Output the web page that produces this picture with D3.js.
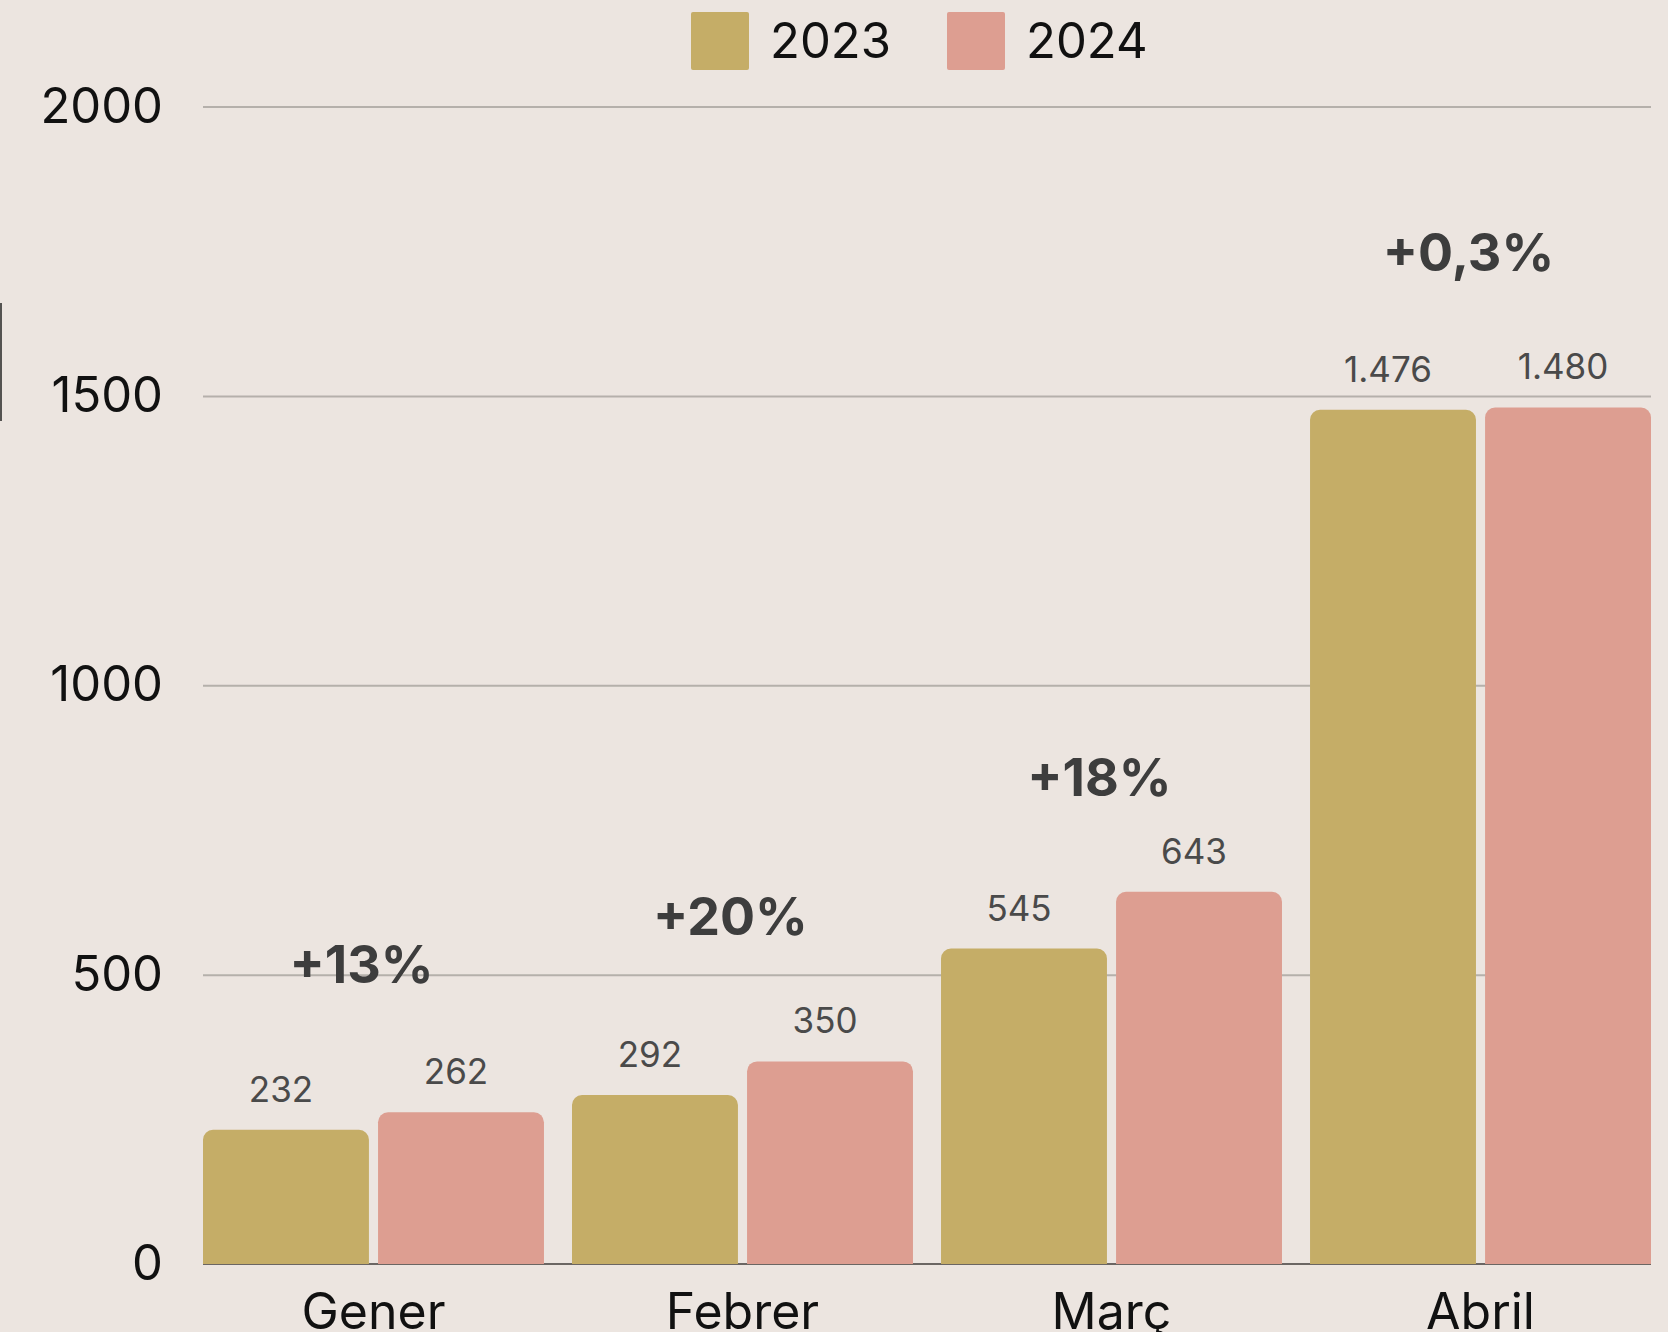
<!DOCTYPE html>
<html>
<head>
<meta charset="utf-8">
<script src="https://cdn.jsdelivr.net/npm/d3@7"></script>
<style>
  html, body { margin: 0; padding: 0; background: #ece5e0; }
  svg { display: block; font-family: Inter, "Open Sans", sans-serif; }
</style>
</head>
<body>
<div id="chart"></div>
<script>
var months = ["Gener", "Febrer", "Març", "Abril"];
var years = ["2023", "2024"];
var values2023 = [232, 292, 545, 1476];
var values2024 = [262, 350, 643, 1480];
var changeLabels = ["+13%", "+20%", "+18%", "+0,3%"];
var changeAnchor = [486, 569, 808, 1715]; // value level each change label sits at
var yTicks = [0, 500, 1000, 1500, 2000];
var yearColors = ["#c5ad67", "#dd9e91"];

var width = 1668, height = 1332;
var plot = {left: 203, right: 1651, top: 106.5, bottom: 1264};

var rows = months.map((m, i) => ({month: m, values: [values2023[i], values2024[i]]}));

// catalan style thousands: 1.476
var ca = d3.formatLocale({decimal: ",", thousands: ".", grouping: [3], currency: ["", " €"]});
var fmt = ca.format(",");

var svg = d3.select("#chart")
    .append("svg")
    .attr("width", width)
    .attr("height", height);

svg.append("rect")
    .attr("width", width)
    .attr("height", height)
    .attr("fill", "#ece5e0");

var x0 = d3.scaleBand()
    .domain(months)
    .range([plot.left, plot.right])
    .paddingInner(0.076)
    .paddingOuter(0);

var x1 = d3.scaleBand()
    .domain(years)
    .range([0, x0.bandwidth()])
    .paddingInner(0.052);

var y = d3.scaleLinear()
    .domain([0, 2000])
    .range([plot.bottom, plot.top]);

var color = d3.scaleOrdinal().domain(years).range(yearColors);

// gridlines
svg.append("g")
    .attr("transform", "translate(" + plot.left + ",0)")
    .call(d3.axisLeft(y)
        .tickValues(yTicks.filter(v => v > 0))
        .tickSize(-(plot.right - plot.left))
        .tickFormat(""))
    .call(g => g.select(".domain").remove())
    .call(g => g.selectAll("line").attr("stroke", "#b5b0ab").attr("stroke-width", 2));

// y labels
svg.append("g")
    .attr("transform", "translate(" + plot.left + ",0)")
    .call(d3.axisLeft(y)
        .tickValues(yTicks)
        .tickFormat(d3.format("d"))
        .tickSize(0)
        .tickPadding(40))
    .call(g => g.select(".domain").remove())
    .call(g => g.selectAll("text")
        .attr("fill", "#111")
        .attr("font-size", 49)
        .attr("font-family", "Inter, sans-serif"));

// baseline
svg.append("line")
    .attr("x1", plot.left)
    .attr("x2", plot.right)
    .attr("y1", y(0))
    .attr("y2", y(0))
    .attr("stroke", "#6b6663")
    .attr("stroke-width", 2);

// stray edge mark on the left border
svg.append("line")
    .attr("x1", 1)
    .attr("x2", 1)
    .attr("y1", 303)
    .attr("y2", 421)
    .attr("stroke", "#222")
    .attr("stroke-width", 1.5);

function topRounded(x, yTop, w, h, r) {
    r = Math.min(r, h, w / 2);
    return "M" + x + "," + (yTop + h) +
        "V" + (yTop + r) +
        "A" + r + "," + r + " 0 0 1 " + (x + r) + "," + yTop +
        "H" + (x + w - r) +
        "A" + r + "," + r + " 0 0 1 " + (x + w) + "," + (yTop + r) +
        "V" + (yTop + h) + "Z";
}

var groups = svg.append("g")
    .selectAll("g")
    .data(rows)
    .enter()
    .append("g")
    .attr("transform", d => "translate(" + x0(d.month) + ",0)");

var cells = groups.selectAll("g")
    .data(d => d.values.map((v, i) => ({year: years[i], value: v})))
    .enter()
    .append("g");

cells.append("path")
    .attr("fill", d => color(d.year))
    .attr("d", d => topRounded(x1(d.year), y(d.value), x1.bandwidth(), y(0) - y(d.value), 10));

cells.append("text")
    .attr("x", d => x1(d.year) + x1.bandwidth() / 2 - 5)
    .attr("y", d => y(d.value) - 28)
    .attr("text-anchor", "middle")
    .attr("font-size", 35)
    .attr("fill", "#4a4a4a")
    .text(d => fmt(d.value));

// change labels
svg.append("g")
    .selectAll("text")
    .data(rows)
    .enter()
    .append("text")
    .attr("x", d => x0(d.month) + x0.bandwidth() / 2 - 12)
    .attr("y", (d, i) => y(changeAnchor[i]))
    .attr("text-anchor", "middle")
    .attr("font-size", 52)
    .attr("font-weight", 700)
    .attr("fill", "#3d3d3d")
    .text((d, i) => changeLabels[i]);

// month labels
svg.append("g")
    .selectAll("text")
    .data(months)
    .enter()
    .append("text")
    .attr("x", d => x0(d) + x0.bandwidth() / 2)
    .attr("y", 1329)
    .attr("text-anchor", "middle")
    .attr("font-size", 50)
    .attr("fill", "#111")
    .text(d => d);

// legend
var legend = svg.append("g")
    .selectAll("g")
    .data(years)
    .enter()
    .append("g")
    .attr("transform", (d, i) => "translate(" + (691 + i * 256) + ",12)");

legend.append("rect")
    .attr("width", 58)
    .attr("height", 58)
    .attr("rx", 2)
    .attr("fill", d => color(d));

legend.append("text")
    .attr("x", 79)
    .attr("y", 46)
    .attr("font-size", 49)
    .attr("fill", "#111")
    .text(d => d);
</script>
</body>
</html>
